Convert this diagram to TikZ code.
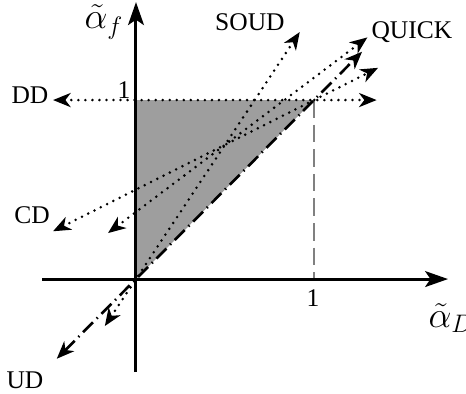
\documentclass[tikz,border=0pt]{standalone}
\usepackage{fontspec}
\setmainfont{Liberation Serif}
\usetikzlibrary{arrows.meta}
\definecolor{shadegray}{RGB}{158,158,158}

\begin{document}
\begin{tikzpicture}[x=3.56cm,y=3.58cm,font=\fontsize{14.5}{16}\selectfont,
        axis/.style={line width=1.7pt,-{Stealth[length=13pt,width=9pt,inset=3pt]}},
        dotline/.style={line width=1.6pt,line cap=round,dash pattern=on 0pt off 4pt,
                        {Stealth[length=10pt,width=8pt,inset=3pt]}-{Stealth[length=10pt,width=8pt,inset=3pt]}},
        dashdot/.style={line width=1.5pt,dash pattern=on 8pt off 3pt on 0.8pt off 3pt,
                        {Stealth[length=10pt,width=8pt,inset=3pt]}-{Stealth[length=10pt,width=8pt,inset=3pt]}},
        mathlbl/.style={font=\fontsize{21}{23}\selectfont}]
      \useasboundingbox (-0.764,-0.642) rectangle (1.854,1.559);
      \coordinate (o) at (0,0);
      \coordinate (top) at (0,1);
      \coordinate (one) at (1,1);
      \coordinate (xone) at (1,0);
      \fill[shadegray] (o) -- (top) -- (one) -- cycle;
      \draw[gray,line width=0.7pt,dash pattern=on 10pt off 4pt] (one) -- (xone);
      % axes
      \coordinate (xl) at (-0.528,0);
      \coordinate (xr) at (1.753,0);
      \coordinate (yb) at (0,-0.52);
      \coordinate (yt) at (0,1.547);
      \draw[axis] (xl) -- (xr);
      \draw[axis] (yb) -- (yt);
      % strategy lines
      \coordinate (dd1) at (-0.466,1);
      \coordinate (dd2) at (1.352,1);
      \coordinate (cd1) at (-0.466,0.267);
      \coordinate (cd2) at (1.36,1.18);
      \coordinate (qk1) at (-0.157,0.257);
      \coordinate (qk2) at (1.30,1.35);
      \coordinate (sd1) at (-0.175,-0.2625);
      \coordinate (sd2) at (0.92,1.38);
      \coordinate (ud1) at (-0.445,-0.445);
      \coordinate (ud2) at (1.27,1.27);
      \draw[dotline] (dd1) -- (dd2);
      \draw[dotline] (cd1) -- (cd2);
      \draw[dotline] (qk1) -- (qk2);
      \draw[dotline] (sd1) -- (sd2);
      \draw[dashdot] (ud1) -- (ud2);
      % labels
      \node (lDD) at (-0.596,1.028) {DD};
      \node (lCD) at (-0.584,0.358) {CD};
      \node (lUD) at (-0.624,-0.564) {UD};
      \node (lSOUD) at (0.64,1.436) {SOUD};
      \node (lQUICK) at (1.55,1.38) {QUICK};
      \node[mathlbl] (laf) at (-0.18,1.436) {$\tilde{\alpha}_f$};
      \node[mathlbl] (laD) at (1.77,-0.218) {$\tilde{\alpha}_D$};
      \node (t1y) at (-0.067,1.056) {1};
      \node (t1x) at (0.994,-0.106) {1};
    \end{tikzpicture}
\end{document}
